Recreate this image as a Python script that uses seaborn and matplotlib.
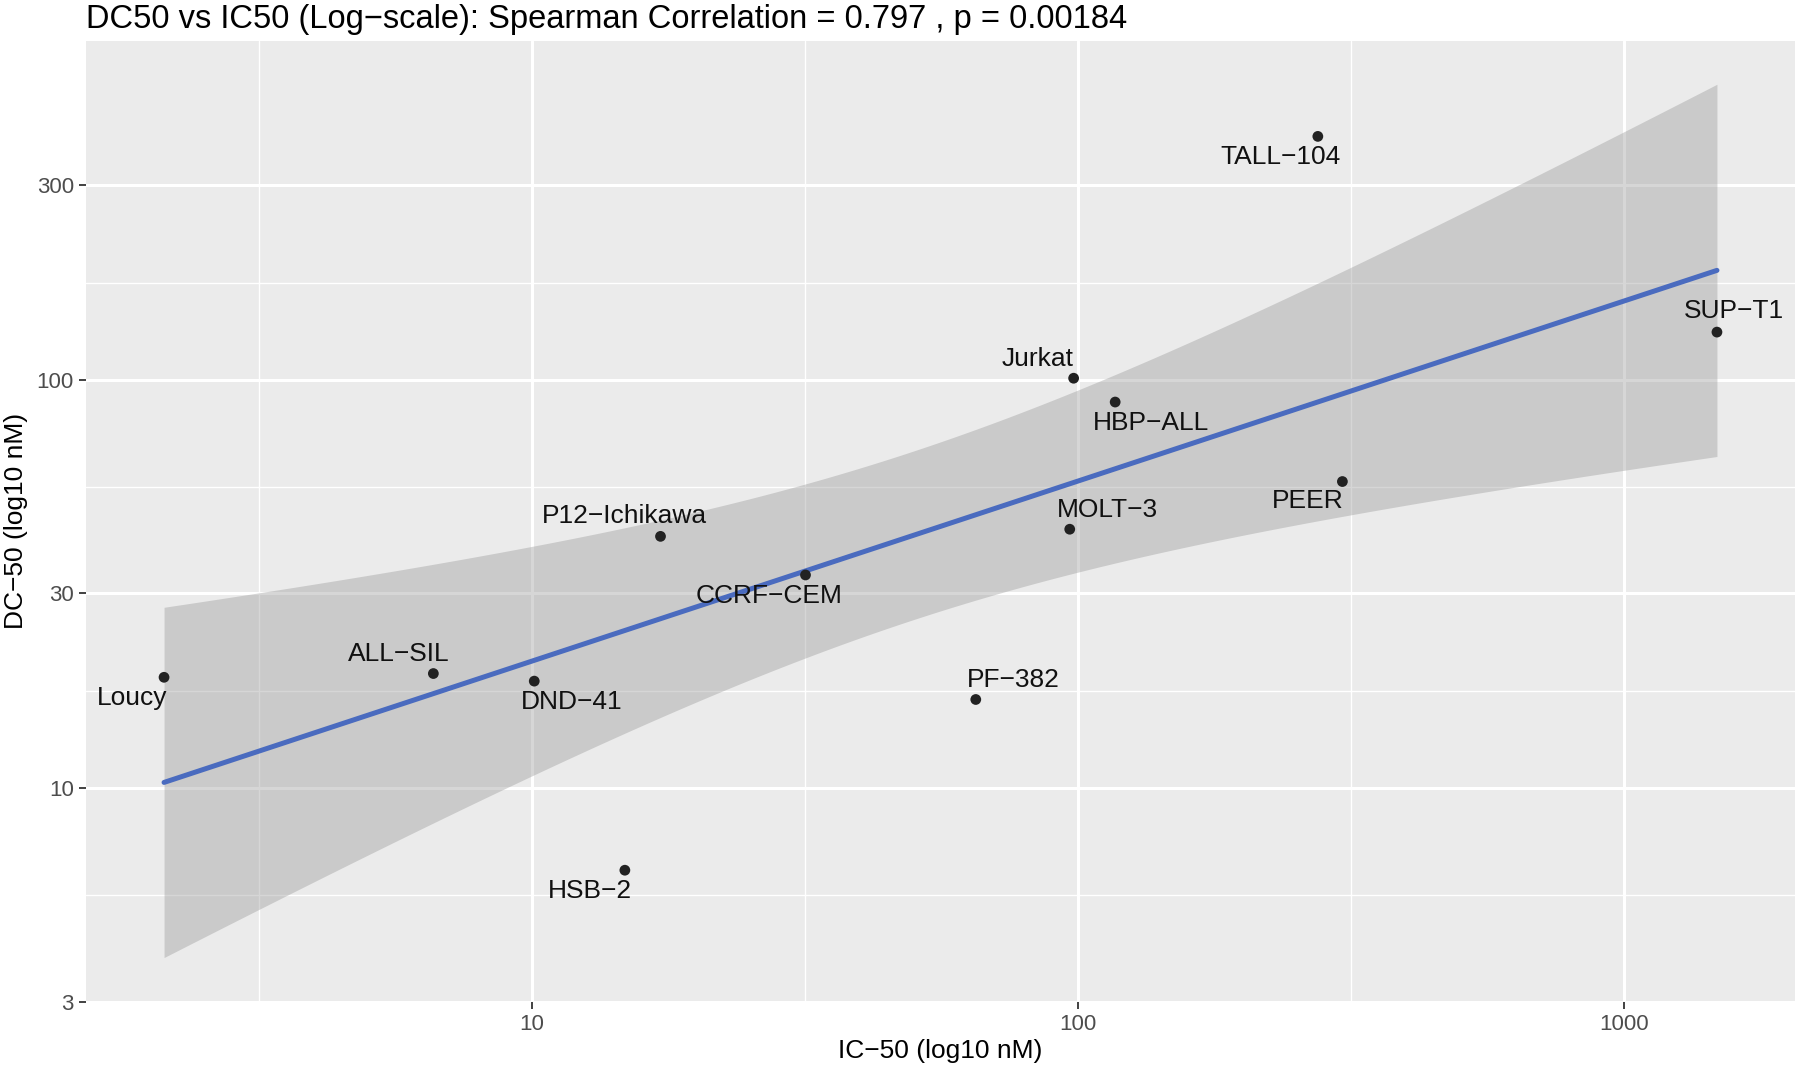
## scatter of DC50 vs IC50 on log axes with a linear fit (ggplot look)
import numpy as np
import pandas as pd
import matplotlib
matplotlib.use('Agg')
import matplotlib.pyplot as plt
import seaborn as sns

sns.set_theme(style='darkgrid')
plt.rcParams['font.family'] = ['Liberation Sans', 'DejaVu Sans']

cell_lines = ['Loucy', 'ALL\u2212SIL', 'DND\u221241', 'HSB\u22122', 'P12\u2212Ichikawa',
              'CCRF\u2212CEM', 'PF\u2212382', 'MOLT\u22123', 'Jurkat', 'HBP\u2212ALL',
              'TALL\u2212104', 'PEER', 'SUP\u2212T1']
ic50 = [2.12, 6.6, 10.1, 14.8, 17.2, 31.7, 65.0, 96.6, 98.2, 117, 275, 305, 1480]
dc50 = [18.7, 19.1, 18.3, 6.3, 41.4, 33.3, 16.5, 43.1, 101, 88.3, 395, 56.4, 131]

# label offsets in points (dx, dy) -- mimic ggrepel placement
label_dx = [-23, -25, 27, -25, -26, -26, 27, 27, -26, 26, -27, -25, 12]
label_dy = [-15, 14, -15, -15, 15, -15, 14, 14, 14, -15, -15, -14, 15]

df = pd.DataFrame({'line': cell_lines, 'IC50': ic50, 'DC50': dc50})
lx = np.log10(df['IC50'].values)
ly = np.log10(df['DC50'].values)

# linear fit in log space with 95% confidence band (like geom_smooth(method='lm'))
slope, icept = np.polyfit(lx, ly, 1)
n = len(lx)
resid = ly - (icept + slope * lx)
s = np.sqrt(np.sum(resid ** 2) / (n - 2))
t_crit = 2.201  # t(0.975, df=11)
gx = np.linspace(lx.min(), lx.max(), 200)
gy = icept + slope * gx
se = s * np.sqrt(1 / n + (gx - lx.mean()) ** 2 / np.sum((lx - lx.mean()) ** 2))
fit = pd.DataFrame({'x': 10 ** gx, 'y': 10 ** gy,
                    'lo': 10 ** (gy - t_crit * se), 'hi': 10 ** (gy + t_crit * se)})

fig, ax = plt.subplots(figsize=(18, 10.68), dpi=100)
fig.subplots_adjust(left=0.048, right=0.997, top=0.962, bottom=0.062)
ax.set_facecolor('#EBEBEB')
fig.patch.set_facecolor('white')

ax.fill_between(fit['x'], fit['lo'], fit['hi'], color='#999999', alpha=0.4, linewidth=0, zorder=2)
sns.lineplot(data=fit, x='x', y='y', color='#4A6BBF', linewidth=3.6, ax=ax, zorder=3)
sns.scatterplot(data=df, x='IC50', y='DC50', color='#222222', s=60, edgecolor='none', ax=ax, zorder=4)

for name, x, y, dx, dy in zip(df['line'], df['IC50'], df['DC50'], label_dx, label_dy):
    ax.annotate(name, (x, y), xytext=(dx, dy), textcoords='offset points',
                ha='center', va='center', fontsize=19, color='#111111', zorder=5)

ax.set_xscale('log')
ax.set_yscale('log')

# ggplot style expansion: 5% of range in log space
xr = lx.max() - lx.min()
ax.set_xlim(10 ** (lx.min() - 0.05 * xr), 10 ** (lx.max() + 0.05 * xr))
ylo = np.log10(min(fit['lo'].min(), df['DC50'].min()))
yhi = np.log10(max(fit['hi'].max(), df['DC50'].max()))
yr = yhi - ylo
ax.set_ylim(10 ** (ylo - 0.05 * yr), 10 ** (yhi + 0.05 * yr))

xticks = [10, 100, 1000]
yticks = [3, 10, 30, 100, 300]
ax.set_xticks(xticks)
ax.set_xticklabels([str(t) for t in xticks])
ax.set_yticks(yticks)
ax.set_yticklabels([str(t) for t in yticks])
# minor grid halfway between breaks in log space
ax.set_xticks([10 ** 0.5, 10 ** 1.5, 10 ** 2.5], minor=True)
ylog = np.log10(yticks)
ax.set_yticks(10 ** ((ylog[:-1] + ylog[1:]) / 2), minor=True)
ax.set_yticklabels([], minor=True)
ax.set_xticklabels([], minor=True)

ax.grid(which='major', color='white', linewidth=2.2)
ax.grid(which='minor', color='white', linewidth=1.0)
ax.set_axisbelow(True)
for sp in ax.spines.values():
    sp.set_visible(False)
ax.tick_params(which='major', length=5, width=1.3, color='#333333', labelcolor='#4D4D4D',
               labelsize=16, direction='out', pad=4, bottom=True, left=True)
ax.tick_params(which='minor', length=0)

ax.set_xlabel('IC\u221250 (log10 nM)', fontsize=19, color='black', labelpad=3)
ax.set_ylabel('DC\u221250 (log10 nM)', fontsize=19, color='black', labelpad=6)
ax.set_title('DC50 vs IC50 (Log\u2212scale): Spearman Correlation = 0.797 , p = 0.00184',
             fontsize=23.5, loc='left', pad=9, color='black')

plt.savefig('out.png', dpi=100)
